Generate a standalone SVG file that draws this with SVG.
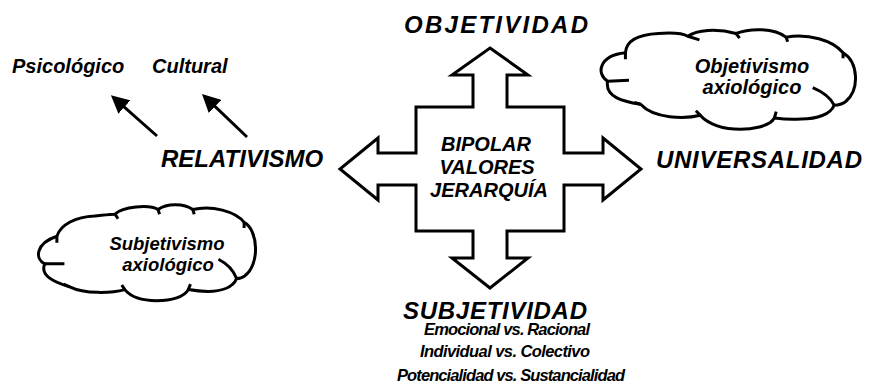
<svg xmlns="http://www.w3.org/2000/svg" width="890" height="388" viewBox="0 0 890 388">
<style>
.t{font-family:"Liberation Sans",Arial,sans-serif;font-weight:bold;font-style:italic;fill:#000}
.big{font-size:24px}
.mid{font-size:20px}
.cl{font-size:18.5px}
.sm{font-size:16.5px}
.shape{fill:#fff;stroke:#000;stroke-width:3;stroke-linejoin:miter}
.cloud{fill:#fff;stroke:#000;stroke-width:3;stroke-linejoin:round}
.tick{fill:none;stroke:#000;stroke-width:3}
.conn{stroke:#000;stroke-width:3;fill:none}
</style>
<defs>
<marker id="ah" markerWidth="20" markerHeight="18" refX="8" refY="9" orient="auto" markerUnits="userSpaceOnUse">
<path d="M0,0 L18,9 L0,18 Z" fill="#000"/>
</marker>
</defs>
<rect width="890" height="388" fill="#fff"/>

<g id="cross">
<path class="shape" d="M490,48 L528,75 L507,75 L507,107 L564,107 L564,153 L603,153 L603,138 L641,169 L603,200 L603,185 L564,185 L564,231 L507,231 L507,258 L528,258 L490,288 L452,258 L473,258 L473,231 L416,231 L416,185 L378,185 L378,200 L340,169 L378,138 L378,153 L416,153 L416,107 L473,107 L473,75 L452,75 Z"/>
<text class="t mid" text-anchor="middle" x="486" y="151">BIPOLAR</text>
<text class="t mid" text-anchor="middle" x="487" y="174">VALORES</text>
<text class="t mid" text-anchor="middle" x="489" y="197">JERARQUÍA</text>
</g>

<g id="cloud-objetivismo">
<g transform="matrix(0.892,0,0,0.919,69.7,5)">
<path class="cloud" vector-effect="non-scaling-stroke" d="M623,52 C624,38 638,32 660,31 C675,30 686,30 693,34 C703,27 725,25 747,31 C763,25 790,25 803,35 C828,31 855,38 867,52 C884,62 886,92 870,105 C866,108 861,109 857,109 C853,119 838,124 820,124 C810,125 798,124 790,123 C785,132 765,136 745,135 C725,134 712,126 707,120 C690,124 655,124 640,108 C620,105 600,100 603,83 C590,75 593,55 623,52 Z"/>
<path class="tick" vector-effect="non-scaling-stroke" d="M623,52 L623,59 M693,34 L706,38 M747,31 L751,36 M803,35 L805,40 M867,52 L867,58 M833,90 C845,95 853,101 857,109 M790,123 L792,116 M707,120 L702,115 M640,108 L633,106 M603,83 L627,82"/>
</g>
<text class="t mid" text-anchor="middle" x="752" y="73">Objetivismo</text>
<text class="t mid" text-anchor="middle" x="752" y="94">axiológico</text>
</g>

<g id="cloud-subjetivismo">
<g transform="matrix(0.755,0,0,0.92,9.3,18.2)">
<path class="cloud" vector-effect="non-scaling-stroke" d="M63,237 C68,224 88,216 113,215 C125,214 134,213 140,213 C150,205 185,202 197,208 C208,201 232,201 243,208 C268,203 300,210 311,222 C330,230 332,268 312,280 C309,282 305,283 301,283 C296,293 280,297 263,297 C253,297 244,296 237,295 C232,303 215,307 195,307 C175,307 160,302 153,295 C135,299 100,300 80,292 C60,287 40,280 47,267 C34,262 34,245 63,237 Z"/>
<path class="tick" vector-effect="non-scaling-stroke" d="M63,237 L63,244 M140,213 L144,218 M197,208 L199,213 M243,208 L245,213 M311,222 L311,228 M277,262 C289,267 297,274 301,283 M237,295 L240,289 M153,295 L149,290 M80,292 L72,289 M47,267 L73,267"/>
</g>
<text class="t cl" text-anchor="middle" x="167" y="250">Subjetivismo</text>
<text class="t cl" text-anchor="middle" x="168" y="271">axiológico</text>
</g>

<g id="objetividad"><text class="t big" x="404" y="33" textLength="184" lengthAdjust="spacing">OBJETIVIDAD</text></g>
<g id="relativismo"><text class="t big" x="161" y="167">RELATIVISMO</text></g>
<g id="universalidad"><text class="t big" x="656" y="168" textLength="206" lengthAdjust="spacing">UNIVERSALIDAD</text></g>
<g id="subjetividad">
<text class="t big" x="403" y="319" textLength="184" lengthAdjust="spacing">SUBJETIVIDAD</text>
<text class="t sm" x="424" y="335" textLength="166" lengthAdjust="spacing">Emocional vs. Racional</text>
<text class="t sm" x="420" y="357" textLength="170" lengthAdjust="spacing">Individual vs. Colectivo</text>
<text class="t sm" x="397" y="381" textLength="228" lengthAdjust="spacing">Potencialidad vs. Sustancialidad</text>
</g>
<g id="psicologico"><text class="t mid" x="12" y="73">Psicológico</text></g>
<g id="cultural"><text class="t mid" x="152" y="73">Cultural</text></g>

<g id="connectors">
<line class="conn" x1="157" y1="136" x2="118.4" y2="101.8" marker-end="url(#ah)"/>
<line class="conn" x1="247" y1="137" x2="209.2" y2="100.9" marker-end="url(#ah)"/>
</g>
</svg>
